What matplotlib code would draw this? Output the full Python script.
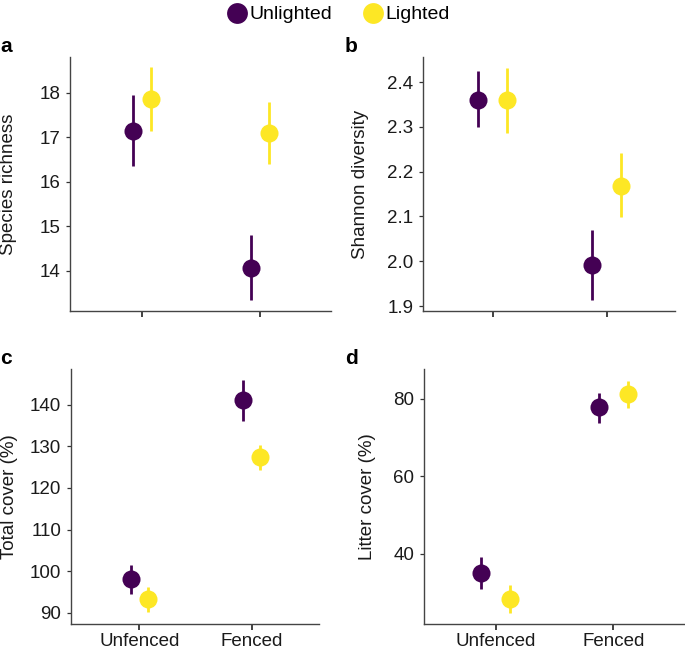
import matplotlib
matplotlib.use("Agg")
import matplotlib.pyplot as plt
import numpy as np

plt.rcParams['font.family'] = ['Liberation Sans', 'DejaVu Sans']

treatments = ['Unfenced', 'Fenced']
groups = ['Unlighted', 'Lighted']
colors = {'Unlighted': '#440154', 'Lighted': '#FDE725'}

# means and CI bounds per group: [Unfenced, Fenced]
richness_mean = {'Unlighted': [17.15, 14.07], 'Lighted': [17.86, 17.1]}
richness_lo = {'Unlighted': [16.35, 13.35], 'Lighted': [17.15, 16.4]}
richness_hi = {'Unlighted': [17.95, 14.8], 'Lighted': [18.57, 17.8]}

shannon_mean = {'Unlighted': [2.361, 1.991], 'Lighted': [2.36, 2.169]}
shannon_lo = {'Unlighted': [2.300, 1.913], 'Lighted': [2.287, 2.098]}
shannon_hi = {'Unlighted': [2.424, 2.069], 'Lighted': [2.432, 2.241]}

total_mean = {'Unlighted': [98.1, 141.2], 'Lighted': [93.2, 127.5]}
total_lo = {'Unlighted': [94.6, 136.2], 'Lighted': [90.3, 124.4]}
total_hi = {'Unlighted': [101.4, 146.0], 'Lighted': [96.1, 130.4]}

litter_mean = {'Unlighted': [35.1, 77.8], 'Lighted': [28.3, 81.2]}
litter_lo = {'Unlighted': [30.8, 73.7], 'Lighted': [24.7, 77.6]}
litter_hi = {'Unlighted': [39.1, 81.5], 'Lighted': [31.9, 84.7]}

# letter, ylabel, data, ylim, yticks, format, dodge, box (px), ylabel right edge (px)
panels = [
    ('a', 'Species richness', richness_mean, richness_lo, richness_hi,
     (13.1, 18.8), [14, 15, 16, 17, 18], None, 0.075,
     [70, 57, 331, 311], 17),
    ('b', 'Shannon diversity', shannon_mean, shannon_lo, shannon_hi,
     (1.889, 2.456), [1.9, 2.0, 2.1, 2.2, 2.3, 2.4], '{:.1f}', 0.125,
     [423, 57, 675, 311], 369),
    ('c', 'Total cover (%)', total_mean, total_lo, total_hi,
     (87.3, 148.6), [90, 100, 110, 120, 130, 140], None, 0.075,
     [71, 369, 319, 624], 18),
    ('d', 'Litter cover (%)', litter_mean, litter_lo, litter_hi,
     (21.8, 87.7), [40, 60, 80], None, 0.125,
     [424, 369, 684, 624], 376),
]

W, H = 685, 651
fig = plt.figure(figsize=(W / 100, H / 100), dpi=100)

ink = '#1a1a1a'
fs = 13.5
for i, (letter, ylabel, mean, lo, hi, ylim, yticks, fmt, dodge, box, lab_x) in enumerate(panels):
    x0, y0, x1, y1 = box
    ax = fig.add_axes([x0 / W, 1 - y1 / H, (x1 - x0) / W, (y1 - y0) / H])
    xpos = np.arange(1, len(treatments) + 1)
    for g, off in zip(groups, [-dodge, dodge]):
        m = np.array(mean[g])
        err = [m - np.array(lo[g]), np.array(hi[g]) - m]
        ax.errorbar(xpos + off, m, yerr=err, fmt='o', color=colors[g],
                    ecolor=colors[g], elinewidth=2.0, capsize=0,
                    markersize=13, markeredgewidth=0, label=g)
    ax.set_xlim(0.39, 2.6)
    ax.set_ylim(*ylim)
    ax.set_yticks(yticks)
    if fmt:
        ax.set_yticklabels([fmt.format(v) for v in yticks])
    ax.set_xticks(xpos)
    if i >= 2:
        ax.set_xticklabels(treatments)
    else:
        ax.set_xticklabels([])
    ax.set_ylabel(ylabel, fontsize=fs, color=ink)
    ax.yaxis.set_label_coords((lab_x - x0) / (x1 - x0), 0.5)
    for s in ['top', 'right']:
        ax.spines[s].set_visible(False)
    for s in ['left', 'bottom']:
        ax.spines[s].set_color('#444444')
        ax.spines[s].set_linewidth(1.0)
    ax.tick_params(axis='both', labelsize=fs, colors='#333333',
                   labelcolor=ink)
    ax.tick_params(axis='y', length=3, width=0.9, pad=4)
    ax.tick_params(axis='x', length=4, width=1.3, pad=2.5)
    fig.text(0 / W if i % 2 == 0 else 345 / W, 1 - (y0 - 10) / H,
             letter, fontsize=15, fontweight='bold', va='center', ha='left')

handles = [plt.Line2D([], [], marker='o', linestyle='', color=colors[g],
                      markersize=15, markeredgewidth=0) for g in groups]
fig.legend(handles, groups, loc='upper center', bbox_to_anchor=(0.493, 1.018),
           ncol=2, frameon=False, fontsize=14, handletextpad=0.05,
           columnspacing=1.5, handlelength=1.2)

fig.savefig('out.png', dpi=100)
